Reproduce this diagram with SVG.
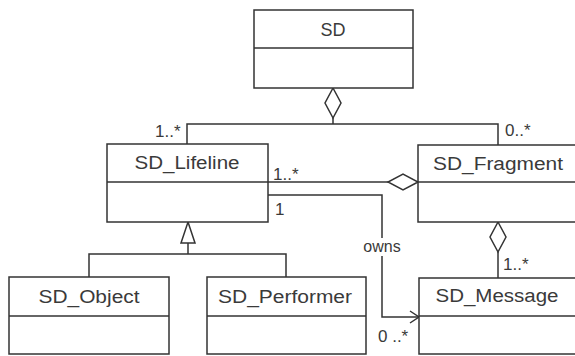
<svg xmlns="http://www.w3.org/2000/svg" width="575" height="356" viewBox="0 0 575 356">
<style>
.box{fill:#fff;stroke:#333;stroke-width:1.5}
.ln{fill:none;stroke:#333;stroke-width:1.5}
.dia{fill:#fff;stroke:#333;stroke-width:1.5}
text{font-family:"Liberation Sans",Arial,sans-serif;fill:#3a3a3a}
.name{font-size:18px;text-anchor:middle}
.mult{font-size:17px}
.lbl{font-size:16px;text-anchor:middle}
</style>
<rect width="575" height="356" fill="#fff"/>
<g id="connectors">
<polyline class="ln" points="187,145 187,124 498,124 498,145"/>
<line class="ln" x1="333" y1="118" x2="333" y2="124"/>
<polygon class="dia" points="333,88 341,103 333,118 325,103"/>
<line class="ln" x1="268" y1="182" x2="388" y2="182"/>
<polygon class="dia" points="418,182 403,190 388,182 403,174"/>
<line class="ln" x1="498" y1="252" x2="498" y2="278"/>
<polygon class="dia" points="498,222 506,237 498,252 490,237"/>
<polyline class="ln" points="268,195 382,195 382,317 419,317"/>
<polyline class="ln" points="410,311 419,317 410,323"/>
<rect x="362" y="238" width="41" height="18" fill="#fff"/>
<text class="lbl" x="382" y="252">owns</text>
<polyline class="ln" points="89,277 89,254 286,254 286,277"/>
<line class="ln" x1="188" y1="243" x2="188" y2="254"/>
<polygon class="dia" points="188,222 195,243 181,243"/>
<text class="mult" x="155" y="137">1..*</text>
<text class="mult" x="505" y="136">0..*</text>
<text class="mult" x="273" y="180">1..*</text>
<text class="mult" x="275" y="215">1</text>
<text class="mult" x="503" y="270">1..*</text>
<text class="mult" x="378" y="342">0 ..*</text>
</g>
<g id="SD">
<rect class="box" x="254" y="10" width="159" height="78"/>
<line class="ln" x1="254" y1="48" x2="413" y2="48"/>
<text class="name" x="333" y="36">SD</text>
</g>
<g id="SD_Lifeline">
<rect class="box" x="107" y="144" width="161" height="78"/>
<line class="ln" x1="107" y1="182" x2="268" y2="182"/>
<text class="name" x="187" y="169" textLength="105" lengthAdjust="spacingAndGlyphs">SD_Lifeline</text>
</g>
<g id="SD_Fragment">
<rect class="box" x="418" y="145" width="160" height="77"/>
<line class="ln" x1="418" y1="182" x2="578" y2="182"/>
<text class="name" x="498" y="170" textLength="130" lengthAdjust="spacingAndGlyphs">SD_Fragment</text>
</g>
<g id="SD_Object">
<rect class="box" x="9" y="277" width="160" height="77"/>
<line class="ln" x1="9" y1="316" x2="169" y2="316"/>
<text class="name" x="89" y="303" textLength="101" lengthAdjust="spacingAndGlyphs">SD_Object</text>
</g>
<g id="SD_Performer">
<rect class="box" x="207" y="277" width="159" height="77"/>
<line class="ln" x1="207" y1="316" x2="366" y2="316"/>
<text class="name" x="285" y="303" textLength="134" lengthAdjust="spacingAndGlyphs">SD_Performer</text>
</g>
<g id="SD_Message">
<rect class="box" x="419" y="278" width="160" height="76"/>
<line class="ln" x1="419" y1="316" x2="579" y2="316"/>
<text class="name" x="497" y="302" textLength="123" lengthAdjust="spacingAndGlyphs">SD_Message</text>
</g>
</svg>
